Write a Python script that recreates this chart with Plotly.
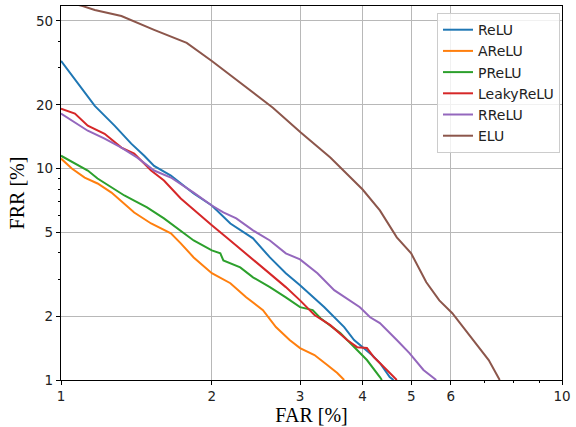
import plotly.graph_objects as go

# Data (FAR %, FRR %)
relu_far = [1.0, 1.080, 1.168, 1.279, 1.381, 1.466, 1.534, 1.657, 1.840, 2.0, 2.178, 2.417, 2.612, 2.810, 3.0, 3.355, 3.675, 3.846, 4.0, 4.175, 4.33, 4.53, 4.61]
relu_frr = [32.3, 25.2, 19.8, 15.96, 13.12, 11.5, 10.3, 9.27, 7.62, 6.69, 5.50, 4.68, 3.80, 3.20, 2.81, 2.21, 1.78, 1.545, 1.43, 1.312, 1.203, 1.033, 1.0]

arelu_far = [1.0, 1.051, 1.115, 1.183, 1.261, 1.338, 1.400, 1.513, 1.584, 1.657, 1.734, 1.840, 2.0, 2.178, 2.342, 2.53, 2.685, 2.86, 3.0, 3.206, 3.40, 3.56, 3.675]
arelu_frr = [11.15, 10.0, 9.07, 8.50, 7.70, 6.84, 6.20, 5.50, 5.21, 4.94, 4.43, 3.80, 3.20, 2.87, 2.46, 2.14, 1.78, 1.545, 1.416, 1.312, 1.177, 1.079, 1.0]

prelu_far = [1.0, 1.066, 1.131, 1.183, 1.261, 1.338, 1.400, 1.485, 1.605, 1.734, 1.840, 2.0, 2.08, 2.109, 2.279, 2.417, 2.612, 2.81, 3.0, 3.18, 3.296, 3.61, 3.846, 4.08, 4.33, 4.37]
prelu_frr = [11.5, 10.56, 9.79, 8.97, 8.13, 7.46, 7.06, 6.55, 5.81, 5.10, 4.57, 4.10, 3.97, 3.68, 3.41, 3.06, 2.75, 2.46, 2.21, 2.14, 1.96, 1.666, 1.43, 1.243, 1.033, 1.0]

leaky_far = [1.0, 1.066, 1.131, 1.222, 1.320, 1.400, 1.513, 1.605, 1.734, 1.866, 2.0, 2.138, 2.342, 2.565, 2.810, 3.0, 3.206, 3.448, 3.725, 3.90, 4.08, 4.21, 4.41, 4.68]
leaky_frr = [19.2, 18.2, 15.96, 14.6, 12.57, 11.77, 9.79, 8.78, 7.22, 6.20, 5.39, 4.73, 3.97, 3.30, 2.75, 2.38, 2.03, 1.817, 1.545, 1.43, 1.416, 1.284, 1.152, 1.0]

rrelu_far = [1.0, 1.066, 1.131, 1.222, 1.320, 1.420, 1.534, 1.657, 1.840, 2.0, 2.109, 2.238, 2.417, 2.612, 2.81, 3.0, 3.25, 3.51, 3.95, 4.14, 4.33, 4.68, 4.96, 5.29, 5.53, 5.61]
rrelu_frr = [18.2, 16.5, 15.1, 13.85, 12.57, 11.27, 9.79, 9.07, 7.70, 6.69, 6.20, 5.81, 5.10, 4.57, 3.97, 3.72, 3.20, 2.66, 2.21, 1.98, 1.858, 1.545, 1.34, 1.115, 1.033, 1.0]

elu_far = [1.0, 1.105, 1.168, 1.320, 1.534, 1.782, 2.0, 2.279, 2.648, 3.01, 3.448, 4.0, 4.33, 4.68, 5.0, 5.36, 5.69, 6.04, 6.64, 7.14, 7.51]
elu_frr = [62.4, 58.7, 56.2, 52.7, 45.3, 39.3, 32.3, 25.5, 19.4, 14.8, 11.27, 7.96, 6.34, 4.73, 3.97, 2.90, 2.38, 2.07, 1.545, 1.243, 1.0]

series = [
    ("ReLU", relu_far, relu_frr, "#1f77b4"),
    ("AReLU", arelu_far, arelu_frr, "#ff7f0e"),
    ("PReLU", prelu_far, prelu_frr, "#2ca02c"),
    ("LeakyReLU", leaky_far, leaky_frr, "#d62728"),
    ("RReLU", rrelu_far, rrelu_frr, "#9467bd"),
    ("ELU", elu_far, elu_frr, "#8c564b"),
]

x_ticks = [1, 2, 3, 4, 5, 6, 10]
x_minor = [7, 8, 9]
y_ticks = [1, 2, 5, 10, 20, 50]
y_minor = [3, 4, 6, 7, 8, 9, 30, 40]

fig = go.Figure()
for name, xs, ys, col in series:
    fig.add_trace(go.Scatter(x=xs, y=ys, mode="lines", name=name,
                             line=dict(color=col, width=2)))

axis_common = dict(
    type="log", showline=True, linecolor="black", linewidth=1.2, mirror=True,
    showgrid=True, gridcolor="#b8b8b8", gridwidth=1,
    ticks="outside", ticklen=4, tickwidth=1, tickcolor="black",
    tickfont=dict(family="DejaVu Sans", size=13.5, color="#222"),
    zeroline=False,
)

fig.update_layout(
    width=576, height=427,
    margin=dict(l=61, r=9, t=5, b=47),
    paper_bgcolor="white", plot_bgcolor="white",
    xaxis=dict(axis_common, range=[0, 1], tickmode="array", tickvals=x_ticks,
               ticktext=[str(v) for v in x_ticks],
               minor=dict(tickmode="array", tickvals=x_minor, ticks="outside",
                          ticklen=2, tickcolor="black", showgrid=False),
               title=dict(text="FAR [%]", font=dict(family="Liberation Serif", size=20, color="black"),
                          standoff=1)),
    yaxis=dict(axis_common, range=[0, 1.769], tickmode="array", tickvals=y_ticks,
               ticktext=[str(v) for v in y_ticks],
               minor=dict(tickmode="array", tickvals=y_minor, ticks="outside",
                          ticklen=2, tickcolor="black", showgrid=False),
               title=dict(text="FRR [%]", font=dict(family="Liberation Serif", size=20, color="black"),
                          standoff=6)),
    legend=dict(x=0.996, y=0.981, xanchor="right", yanchor="top",
                bgcolor="rgba(255,255,255,0.8)", bordercolor="#cccccc", borderwidth=1,
                font=dict(family="DejaVu Sans", size=14, color="#222"),
                tracegroupgap=0),
    showlegend=True,
)

fig.write_html("out.html", config={"displayModeBar": False},
               post_script="document.body.style.margin='0';")
